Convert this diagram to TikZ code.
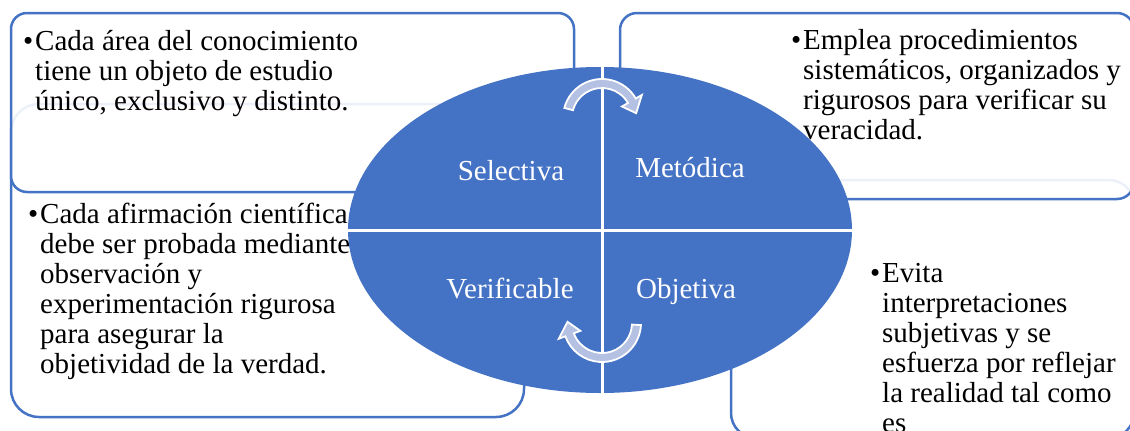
\documentclass[tikz,border=0pt]{standalone}
\usepackage{fontspec}
\setmainfont{Liberation Serif}

\definecolor{accent}{HTML}{4472C4}
\definecolor{arrowfill}{HTML}{B4C1E3}

% stacked lines whose baseline is the first line's baseline
\newcommand\bodylines[1]{\begin{tabular}[t]{@{}l@{}}#1\end{tabular}}

% curved cycle arrow: centre x, centre y, start angle, angle of the head's base
\newcommand\cyclearc[4]{%
  \begin{scope}[shift={(#1,#2)}]
    \filldraw[cyclearrow]
      (#3:39pt) arc[start angle=#3, end angle=#4, radius=39pt]
      -- (#4:46pt) -- ({#4-22}:34.5pt) -- (#4:23pt) -- (#4:30pt)
      arc[start angle=#4, end angle=#3, radius=30pt] -- cycle;
  \end{scope}}

\tikzset{
  panel/.style={draw=accent, line width=2.5pt, fill=white},
  panelfront/.style={panel, fill opacity=0.9},
  bodytext/.style={anchor=base west, inner sep=0pt,
    font=\fontsize{29}{30}\selectfont, text=black},
  quadlabel/.style={anchor=base, inner sep=0pt,
    font=\fontsize{29}{30}\selectfont, text=white},
  divider/.style={white, line width=3pt},
  cyclearrow/.style={fill=arrowfill, draw=white, line width=1.8pt, line join=miter},
}

\begin{document}
\begin{tikzpicture}[x=1pt,y=-1pt]
\useasboundingbox (0,0) rectangle (1130,431);
\clip (0,0) rectangle (1130,431);

% lower panels
\draw[panel, rounded corners=28pt] (11,104) rectangle (524,417);
\draw[panel, rounded corners=25pt] (731,180) rectangle (1134,438);

\node[bodytext] (blBullet) at (28,223) {•};
\node[bodytext] (blText) at (40,223) {\bodylines{Cada afirmación científica\\
  debe ser probada mediante\\ observación y\\ experimentación rigurosa\\
  para asegurar la\\ objetividad de la verdad.}};

\node[bodytext] (brBullet) at (870,282) {•};
\node[bodytext] (brText) at (882,282) {\bodylines{Evita\\ interpretaciones\\
  subjetivas y se\\ esfuerza por reflejar\\ la realidad tal como\\ es}};

% upper panels
\draw[panelfront, rounded corners=16pt] (11,13) rectangle (574,192);
\draw[panelfront, rounded corners=17pt] (620,13) rectangle (1134,199);

\node[bodytext] (tlBullet) at (23,50) {•};
\node[bodytext] (tlText) at (35,50) {\bodylines{Cada área del conocimiento\\
  tiene un objeto de estudio\\ único, exclusivo y distinto.}};

\node[bodytext] (trBullet) at (791,49) {•};
\node[bodytext] (trText) at (803,49) {\bodylines{Emplea procedimientos\\
  sistemáticos, organizados y\\ rigurosos para verificar su\\ veracidad.}};

% central ellipse split into four quadrants
\begin{scope}
  \clip (600,230) ellipse [x radius=252pt, y radius=163pt];
  \fill[accent] (0,0) rectangle (1130,431);
  \draw[divider] (602,60) -- (602,400);
  \draw[divider] (340,230) -- (870,230);
\end{scope}

\node[quadlabel] (selectiva) at (511,180) {Selectiva};
\node[quadlabel] (metodica) at (690,177) {Metódica};
\node[quadlabel] (verificable) at (510,298) {Verificable};
\node[quadlabel] (objetiva) at (686,298) {Objetiva};

% cycle arrows
\cyclearc{602}{118}{165}{30}
\cyclearc{602}{323}{-3}{-160}
\end{tikzpicture}
\end{document}
